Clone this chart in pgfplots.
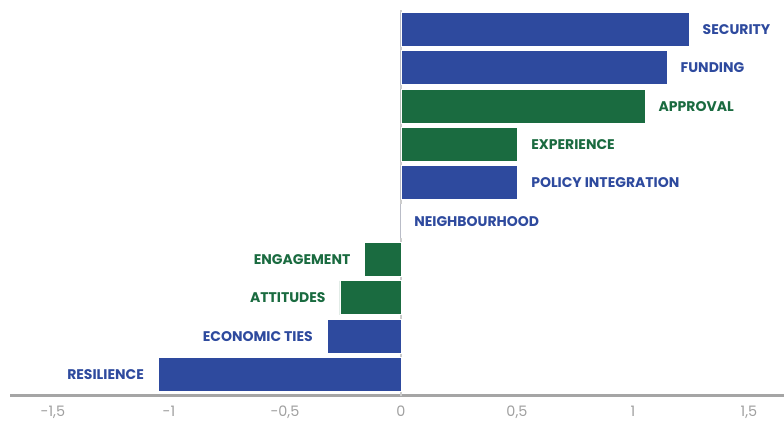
\documentclass[border=0pt]{standalone}
\usepackage{pgfplots}
\pgfplotsset{compat=1.18}
\usepackage{fontspec}
\setmainfont{Poppins}
\definecolor{cblue}{RGB}{46,74,158}
\definecolor{cgreen}{RGB}{26,107,64}
\definecolor{tickgray}{RGB}{160,160,160}
\definecolor{axgray}{RGB}{165,165,165}
\definecolor{zgray}{RGB}{205,205,205}
\begin{document}
\begin{tikzpicture}
\useasboundingbox (-5pt,-13pt) rectangle (387pt,198pt);
\begin{axis}[
  at={(0,0)}, anchor=south west,
  scale only axis, width=387pt, height=193pt,
  xmin=-1.685, xmax=1.651, ymin=-0.561, ymax=9.509,
  xbar, bar width=17pt, bar shift=0pt,
  axis y line=none, axis x line*=bottom,
  x axis line style={axgray, line width=1.5pt, -},
  xtick={-1.5,-1,-0.5,0,0.5,1,1.5},
  xticklabels={{-1,5},{-1},{-0,5},{0},{0,5},{1},{1,5}},
  xticklabel style={font=\fontsize{7.2}{8}\selectfont, text=tickgray, yshift=-1.5pt},
  major tick length=0pt,
  extra x ticks={0}, extra x tick labels={},
  extra x tick style={grid=major, major grid style={zgray, line width=1pt}},
  ytick=\empty,
  clip=false,
  point meta=explicit symbolic,
  nodes near coords,
  every node near coord/.append style={font=\fontsize{7}{8}\selectfont\bfseries, inner sep=0pt},
]
\addplot[fill=cblue, draw=white, line width=0.4pt,
  every node near coord/.append style={anchor=west, xshift=6.5pt, text=cblue}]
  table[meta=label] {
x y label
1.243 9 SECURITY
1.148 8 FUNDING
0.504 5 {POLICY INTEGRATION}
0 4 NEIGHBOURHOOD
};
\addplot[fill=cgreen, draw=white, line width=0.4pt,
  every node near coord/.append style={anchor=west, xshift=6.5pt, text=cgreen}]
  table[meta=label] {
x y label
1.053 7 APPROVAL
0.504 6 EXPERIENCE
};
\addplot[fill=cgreen, draw=white, line width=0.4pt,
  every node near coord/.append style={anchor=east, xshift=-7pt, text=cgreen}]
  table[meta=label] {
x y label
-0.156 3 ENGAGEMENT
-0.263 2 ATTITUDES
};
\addplot[fill=cblue, draw=white, line width=0.4pt,
  every node near coord/.append style={anchor=east, xshift=-7pt, text=cblue}]
  table[meta=label] {
x y label
-0.318 1 {ECONOMIC TIES}
-1.046 0 RESILIENCE
};
\end{axis}
\end{tikzpicture}
\end{document}
